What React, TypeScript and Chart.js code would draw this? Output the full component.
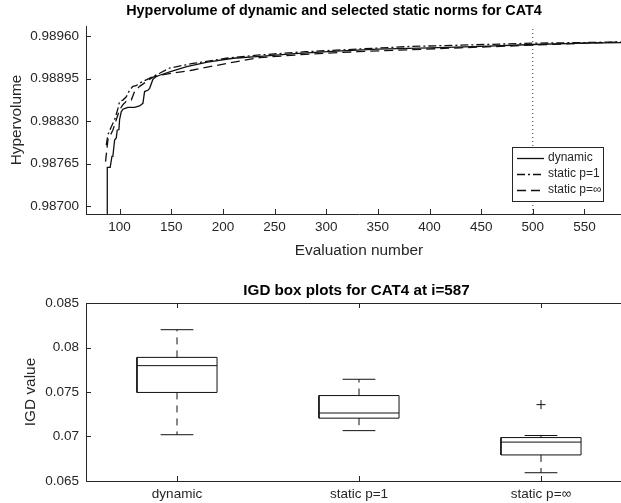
import React, { useEffect, useRef } from 'react';
import { Chart, registerables } from 'chart.js';

Chart.register(...registerables);

const FONT = '"Liberation Sans", Arial, Helvetica, sans-serif';
const INK = '#262626';
const LINE = '#111111';

// ---- Hypervolume history (evaluation number, hypervolume) ----
const dynamicEval = [88, 88.1, 90.9, 92.6, 93.5, 95.2, 96.8, 97.7, 99.4, 100, 101.6, 103.2, 104.8, 108.1, 114.5, 119.4, 122.6, 124.2, 127.4, 129.1, 132.3, 135.5, 138.8, 150, 165, 185, 210, 236, 270, 310, 350, 400, 450, 500, 550, 587];
const dynamicHV = [0.98688, 0.98759, 0.98759, 0.98776, 0.98776, 0.98801, 0.98804, 0.98816, 0.98817, 0.98832, 0.98844, 0.98848, 0.98849, 0.98851, 0.98851, 0.98853, 0.98857, 0.98875, 0.98877, 0.9888, 0.98894, 0.98898, 0.989, 0.98906, 0.98913, 0.9892, 0.98926, 0.98929, 0.98933, 0.98937, 0.9894, 0.98942, 0.98944, 0.98947, 0.98949, 0.9895];

const staticP1Eval = [87.1, 88.7, 91.9, 95.2, 98.4, 100, 103.2, 106.5, 109.7, 112.9, 116.1, 119.4, 125.8, 132.3, 138.8, 148.4, 171, 203.3, 235.6, 280, 330, 381, 430, 500, 550, 587];
const staticP1HV = [0.98793, 0.98809, 0.98821, 0.98832, 0.98849, 0.9886, 0.98862, 0.98867, 0.98877, 0.98883, 0.98884, 0.98888, 0.98893, 0.98898, 0.98903, 0.98911, 0.98918, 0.98926, 0.98931, 0.98936, 0.9894, 0.98944, 0.98946, 0.98949, 0.9895, 0.98951];

const staticInfEval = [86.4, 88.7, 90.3, 93.5, 96.8, 100, 103.2, 106.5, 111.3, 114.5, 119.4, 125.8, 132.3, 138.8, 171, 203.3, 235.6, 280, 330, 381, 430, 500, 550, 587];
const staticInfHV = [0.98768, 0.98801, 0.98806, 0.98816, 0.98832, 0.98847, 0.98855, 0.9886, 0.98862, 0.98875, 0.98883, 0.9889, 0.98897, 0.989, 0.98908, 0.98918, 0.98927, 0.98932, 0.98936, 0.98939, 0.98942, 0.98946, 0.98949, 0.98951];

const markerEval = 500;
const evalTicks = [100, 150, 200, 250, 300, 350, 400, 450, 500, 550];
const hvTicks = [0.987, 0.98765, 0.9883, 0.98895, 0.9896];
const hvMin = 0.986878;
const hvMax = 0.989753;

// ---- IGD distributions at i=587 ----
const igdCategories = ['dynamic', 'static p=1', 'static p=\u221e'];
const igdLowerWhisker = [0.0702, 0.07066, 0.06593];
const igdQ1 = [0.07495, 0.07206, 0.06793];
const igdMedian = [0.07796, 0.07264, 0.06937];
const igdQ3 = [0.07889, 0.0746, 0.06988];
const igdUpperWhisker = [0.0820, 0.07643, 0.07011];
const igdOutliers = [[], [], [0.07358]];
const igdTicks = [0.065, 0.07, 0.075, 0.08, 0.085];

type P = { x: number; y: number | null };
const pts = (xs: number[], ys: number[]): P[] => xs.map((x, i) => ({ x, y: ys[i] }));

// inward tick marks (and optional closed box) drawn from the scales' ticks
const innerTicks = {
  id: 'innerTicks',
  afterDraw(chart: any, _a: any, opts: any) {
    const { ctx, chartArea: a } = chart;
    const len = opts.length || 5;
    const xs = chart.scales.x;
    const ys = chart.scales.y;
    ctx.save();
    ctx.strokeStyle = INK;
    ctx.lineWidth = 1;
    ctx.setLineDash([]);
    ctx.beginPath();
    xs.ticks.forEach((t: any) => {
      const px = Math.round(xs.getPixelForValue(t.value)) + 0.5;
      ctx.moveTo(px, a.bottom);
      ctx.lineTo(px, a.bottom - len);
      if (opts.mirror) {
        ctx.moveTo(px, a.top);
        ctx.lineTo(px, a.top + len);
      }
    });
    ys.ticks.forEach((t: any) => {
      const py = Math.round(ys.getPixelForValue(t.value)) + 0.5;
      ctx.moveTo(a.left, py);
      ctx.lineTo(a.left + len, py);
      if (opts.mirror) {
        ctx.moveTo(a.right, py);
        ctx.lineTo(a.right - len, py);
      }
    });
    ctx.stroke();
    if (opts.mirror) {
      ctx.strokeRect(Math.round(a.left) + 0.5, Math.round(a.top) + 0.5, Math.round(a.right - a.left), Math.round(a.bottom - a.top));
    }
    ctx.restore();
  },
};

const figureTitle = {
  id: 'figureTitle',
  afterDraw(chart: any, _a: any, opts: any) {
    if (!opts.text) return;
    const { ctx } = chart;
    ctx.save();
    ctx.font = `bold ${opts.size}px ${FONT}`;
    ctx.fillStyle = '#000';
    ctx.textAlign = 'center';
    ctx.textBaseline = 'middle';
    ctx.fillText(opts.text, opts.x, opts.y);
    ctx.restore();
  },
};

const insetLegend = {
  id: 'insetLegend',
  afterDatasetsDraw(chart: any, _a: any, opts: any) {
    if (!opts.entries) return;
    const { ctx } = chart;
    const { x, y, w, h, sample0, sample1, textX, rows, entries } = opts;
    ctx.save();
    ctx.fillStyle = '#ffffff';
    ctx.fillRect(x, y, w, h);
    ctx.strokeStyle = INK;
    ctx.lineWidth = 1;
    ctx.setLineDash([]);
    ctx.strokeRect(x + 0.5, y + 0.5, w, h);
    ctx.font = `12px ${FONT}`;
    ctx.textBaseline = 'middle';
    ctx.textAlign = 'left';
    entries.forEach((di: number, k: number) => {
      const ds = chart.data.datasets[di];
      const ry = rows[k];
      ctx.strokeStyle = ds.borderColor;
      ctx.lineWidth = ds.borderWidth;
      ctx.setLineDash(ds.borderDash || []);
      ctx.beginPath();
      ctx.moveTo(sample0, ry + 0.5);
      ctx.lineTo(sample1, ry + 0.5);
      ctx.stroke();
      ctx.setLineDash([]);
      ctx.fillStyle = INK;
      ctx.fillText(ds.label, textX, ry);
    });
    ctx.restore();
  },
};

function boxDatasets() {
  const BOX_HALF = 0.22;
  const CAP_HALF = 0.09;
  const boxes: P[] = [];
  const medians: P[] = [];
  const whiskers: P[] = [];
  const caps: P[] = [];
  const outliers: P[] = [];
  igdCategories.forEach((_c, i) => {
    const c = i + 1;
    boxes.push(
      { x: c - BOX_HALF, y: igdQ1[i] }, { x: c + BOX_HALF, y: igdQ1[i] },
      { x: c + BOX_HALF, y: igdQ3[i] }, { x: c - BOX_HALF, y: igdQ3[i] },
      { x: c - BOX_HALF, y: igdQ1[i] }, { x: c, y: null },
    );
    medians.push({ x: c - BOX_HALF, y: igdMedian[i] }, { x: c + BOX_HALF, y: igdMedian[i] }, { x: c, y: null });
    whiskers.push(
      { x: c, y: igdQ3[i] }, { x: c, y: igdUpperWhisker[i] }, { x: c, y: null },
      { x: c, y: igdQ1[i] }, { x: c, y: igdLowerWhisker[i] }, { x: c, y: null },
    );
    caps.push(
      { x: c - CAP_HALF, y: igdUpperWhisker[i] }, { x: c + CAP_HALF, y: igdUpperWhisker[i] }, { x: c, y: null },
      { x: c - CAP_HALF, y: igdLowerWhisker[i] }, { x: c + CAP_HALF, y: igdLowerWhisker[i] }, { x: c, y: null },
    );
    igdOutliers[i].forEach((v) => outliers.push({ x: c, y: v }));
  });
  const lineDs = (data: P[], dash: number[] = []) => ({
    data,
    showLine: true,
    spanGaps: false,
    pointRadius: 0,
    borderColor: LINE,
    borderWidth: 1,
    borderDash: dash,
    tension: 0,
  });
  return [
    lineDs(whiskers, [7, 6]),
    lineDs(boxes),
    lineDs(medians),
    lineDs(caps),
    {
      data: outliers,
      showLine: false,
      pointStyle: 'cross',
      pointRadius: 4.5,
      pointBorderWidth: 1,
      borderColor: LINE,
      backgroundColor: LINE,
    },
  ];
}

const tickFont = { family: FONT, size: 13.5 };
const labelFont = { family: FONT, size: 15.4 };

export default function App() {
  const topRef = useRef<HTMLCanvasElement>(null);
  const botRef = useRef<HTMLCanvasElement>(null);

  useEffect(() => {
    const top = new Chart(topRef.current as HTMLCanvasElement, {
      type: 'scatter',
      data: {
        datasets: [
          { label: 'dynamic', data: pts(dynamicEval, dynamicHV), showLine: true, pointRadius: 0, borderColor: LINE, borderWidth: 1.3, borderDash: [], tension: 0 },
          { label: 'static p=1', data: pts(staticP1Eval, staticP1HV), showLine: true, pointRadius: 0, borderColor: LINE, borderWidth: 1.3, borderDash: [8, 3, 2, 3], tension: 0 },
          { label: 'static p=\u221e', data: pts(staticInfEval, staticInfHV), showLine: true, pointRadius: 0, borderColor: LINE, borderWidth: 1.3, borderDash: [9, 5], tension: 0 },
          { label: '', data: [{ x: markerEval, y: hvMin }, { x: markerEval, y: hvMax }], showLine: true, pointRadius: 0, borderColor: '#333', borderWidth: 1, borderDash: [1, 3] },
        ],
      } as any,
      options: {
        animation: false,
        responsive: false,
        devicePixelRatio: 1,
        events: [],
        layout: { padding: { left: 0, right: 8, top: 26, bottom: 0 } },
        plugins: {
          legend: { display: false },
          tooltip: { enabled: false },
          figureTitle: { text: 'Hypervolume of dynamic and selected static norms for CAT4', size: 14.4, x: 334, y: 11 },
          innerTicks: { length: 5, mirror: false },
          insetLegend: {
            x: 512, y: 147, w: 91, h: 54,
            sample0: 517, sample1: 544, textX: 548,
            rows: [158, 174, 190],
            entries: [0, 1, 2],
          },
        } as any,
        scales: {
          x: {
            type: 'linear',
            min: 67.5,
            max: 596,
            afterBuildTicks: (s: any) => { s.ticks = evalTicks.map((value) => ({ value })); },
            afterFit: (s: any) => { s.height = 48; },
            grid: { display: false, drawTicks: false },
            border: { display: true, color: INK, width: 1 },
            ticks: { color: INK, font: tickFont, padding: 5, maxRotation: 0, autoSkip: false, callback: (v: any) => String(v) },
            title: { display: true, text: 'Evaluation number', color: INK, font: labelFont, padding: { top: 0, bottom: 2 } },
          },
          y: {
            type: 'linear',
            min: hvMin,
            max: hvMax,
            afterBuildTicks: (s: any) => { s.ticks = hvTicks.map((value) => ({ value })); },
            afterFit: (s: any) => { s.width = 86; },
            grid: { display: false, drawTicks: false },
            border: { display: true, color: INK, width: 1 },
            ticks: { color: INK, font: tickFont, padding: 7, autoSkip: false, callback: (v: any) => Number(v).toFixed(5) },
            title: { display: true, text: 'Hypervolume', color: INK, font: labelFont, padding: { top: 8, bottom: 0 } },
          },
        },
      } as any,
      plugins: [innerTicks, figureTitle, insetLegend],
    });

    const bot = new Chart(botRef.current as HTMLCanvasElement, {
      type: 'scatter',
      data: { datasets: boxDatasets() } as any,
      options: {
        animation: false,
        responsive: false,
        devicePixelRatio: 1,
        events: [],
        layout: { padding: { left: 0, right: 8, top: 41, bottom: 0 } },
        plugins: {
          legend: { display: false },
          tooltip: { enabled: false },
          figureTitle: { text: 'IGD box plots for CAT4 at i=587', size: 15.2, x: 356.5, y: 29 },
          innerTicks: { length: 5, mirror: true },
        } as any,
        scales: {
          x: {
            type: 'linear',
            min: 0.5,
            max: 3.5,
            afterBuildTicks: (s: any) => { s.ticks = igdCategories.map((_c, i) => ({ value: i + 1 })); },
            afterFit: (s: any) => { s.height = 22; },
            grid: { display: false, drawTicks: false },
            border: { display: true, color: INK, width: 1 },
            ticks: { color: INK, font: tickFont, padding: 5, maxRotation: 0, autoSkip: false, callback: (v: any) => igdCategories[Math.round(Number(v)) - 1] },
          },
          y: {
            type: 'linear',
            min: 0.065,
            max: 0.085,
            afterBuildTicks: (s: any) => { s.ticks = igdTicks.map((value) => ({ value })); },
            afterFit: (s: any) => { s.width = 86; },
            grid: { display: false, drawTicks: false },
            border: { display: true, color: INK, width: 1 },
            ticks: { color: INK, font: tickFont, padding: 7, autoSkip: false, callback: (v: any) => String(Number(Number(v).toFixed(3))) },
            title: { display: true, text: 'IGD value', color: INK, font: labelFont, padding: { top: 22, bottom: 0 } },
          },
        },
      } as any,
      plugins: [innerTicks, figureTitle],
    });

    return () => {
      top.destroy();
      bot.destroy();
    };
  }, []);

  return (
    <div style={{ position: 'absolute', left: 0, top: 0, width: 621, height: 503, overflow: 'hidden', background: '#ffffff' }}>
      <canvas ref={topRef} width={640} height={262} style={{ display: 'block', width: 640, height: 262 }} />
      <canvas ref={botRef} width={640} height={241} style={{ display: 'block', width: 640, height: 241 }} />
    </div>
  );
}
